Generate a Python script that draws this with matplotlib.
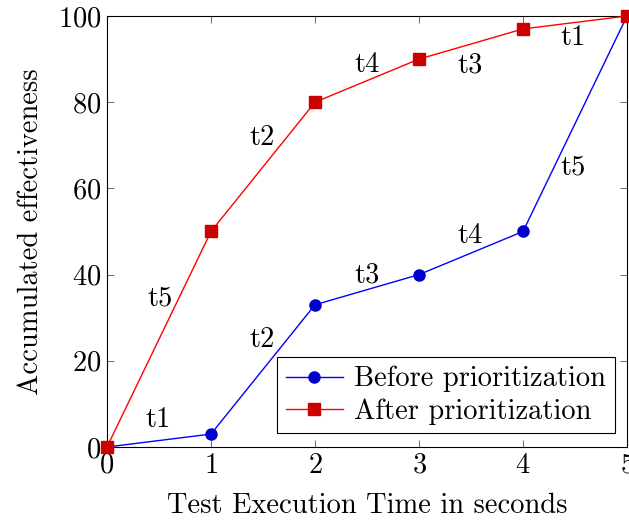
import matplotlib.pyplot as plt

plt.rcParams['font.family'] = ['cmr10', 'DejaVu Serif']
plt.rcParams['axes.formatter.use_mathtext'] = True
plt.rcParams['mathtext.fontset'] = 'cm'

time = [0, 1, 2, 3, 4, 5]
before = [0, 3, 33, 40, 50, 100]
after = [0, 50, 80, 90, 97, 100]
before_labels = ["t1", "t2", "t3", "t4", "t5"]
after_labels = ["t5", "t2", "t4", "t3", "t1"]

fs = 20.5

fig = plt.figure(figsize=(6.29, 5.23), dpi=100)
ax = fig.add_axes([107 / 629, 76 / 523, 520 / 629, 431 / 523])

ax.plot(time, before, color="#0000ff", lw=1, marker="o", markersize=8, clip_on=False, zorder=3,
        markerfacecolor="#0000cc", markeredgecolor="#0000cc", label="Before prioritization")
ax.plot(time, after, color="#ff0000", lw=1, marker="s", markersize=8, clip_on=False, zorder=3,
        markerfacecolor="#cc0000", markeredgecolor="#cc0000", label="After prioritization")

# segment labels
before_pos = [(0.49, 6.3), (1.49, 24.8), (2.5, 39.9), (3.49, 49), (4.48, 65)]
after_pos = [(0.51, 34.6), (1.49, 71.7), (2.5, 88.6), (3.49, 88.6), (4.48, 94.9)]
for (x, y), t in zip(before_pos, before_labels):
    ax.text(x, y, t, fontsize=fs, ha="center", va="center")
for (x, y), t in zip(after_pos, after_labels):
    ax.text(x, y, t, fontsize=fs, ha="center", va="center")

ax.set_xlim(0, 5)
ax.set_ylim(0, 100)
ax.set_xticks(time)
ax.set_yticks([0, 20, 40, 60, 80, 100])
ax.tick_params(direction="in", top=True, right=True, labelsize=fs, length=5, width=0.6,
               color="#555555", pad=4)
for s in ax.spines.values():
    s.set_linewidth(0.8)

ax.set_xlabel("Test Execution Time in seconds", fontsize=fs, labelpad=10)
ax.set_ylabel("Accumulated effectiveness", fontsize=fs, labelpad=10)

leg = ax.legend(loc="lower right", bbox_to_anchor=(0.976, 0.032), fontsize=fs, frameon=True,
                fancybox=False, edgecolor="black", framealpha=1, handlelength=2.0,
                borderpad=0.3, labelspacing=0.2, handletextpad=0.4, borderaxespad=0)
leg.get_frame().set_linewidth(0.8)

fig.savefig("out.png", dpi=100)
